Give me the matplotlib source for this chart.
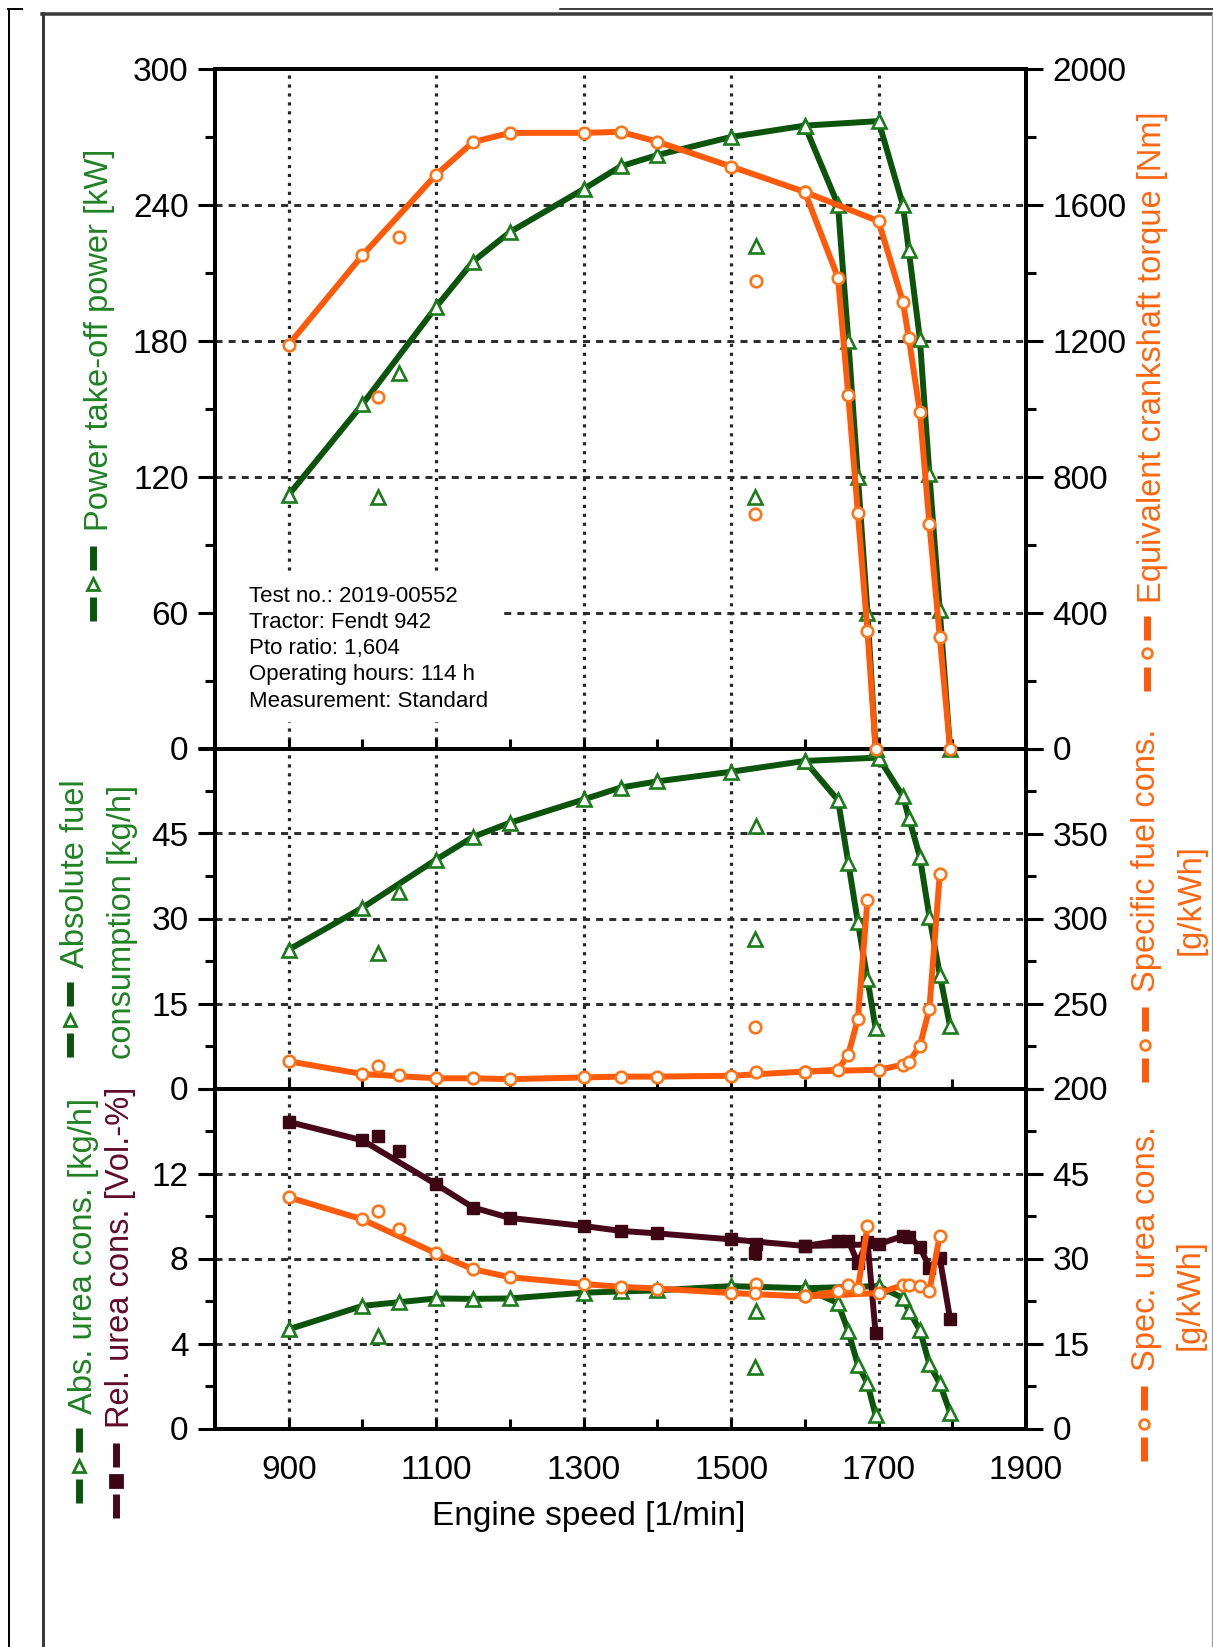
import matplotlib
matplotlib.use('Agg')
import matplotlib.pyplot as plt
from matplotlib.lines import Line2D
from matplotlib.patches import Rectangle
from matplotlib.ticker import MultipleLocator

plt.rcParams['font.family'] = ['Liberation Sans', 'DejaVu Sans']

# engine speed [1/min]
rpm_main = [900, 1000, 1100, 1150, 1200, 1300, 1350, 1400, 1500, 1600, 1700]
rpm_drop_a = [1645, 1659, 1672, 1685, 1696]        # run-out after 1600
rpm_drop_b = [1733, 1741, 1756, 1769, 1783, 1797]  # run-out after 1700
rpm_single = [1021, 1050, 1534, 1532]

# PTO power [kW]
power_main = [112, 152, 195, 215, 228, 247, 257, 262, 270, 275, 277]
power_drop_a = [240, 180, 120, 60, 0]
power_drop_b = [240, 220, 181, 121, 61, 0]
power_single = [111, 166, 222, 111]

# equivalent crankshaft torque [Nm]
torque_main = [1189, 1452, 1689, 1785, 1812, 1812, 1815, 1786, 1713, 1638, 1552]
torque_drop_a = [1386, 1039, 692, 345, 0]
torque_drop_b = [1315, 1209, 991, 661, 329, 0]
torque_single = [1035, 1506, 1377, 690]

# absolute fuel consumption [kg/h]
fuel_main = [24.5, 31.9, 40.4, 44.4, 46.9, 51.0, 53.1, 54.2, 55.9, 57.8, 58.4]
fuel_drop_a = [50.9, 39.8, 29.3, 19.3, 10.6]
fuel_drop_b = [51.6, 47.8, 40.9, 30.3, 20.1, 11.0]
fuel_single = [24.0, 34.7, 46.4, 26.3]

# specific fuel consumption [g/kWh]
sfc_main = [216, 208.5, 206, 206, 205.5, 206.5, 207, 207, 207.5, 210, 211]
sfc_drop_a = [211, 220, 241, 311]
sfc_drop_b = [214, 215.5, 225, 247, 326]
sfc_single = [213.5, 208, 209.5, 236]

# absolute urea consumption [kg/h]
urea_main = [4.67, 5.77, 6.12, 6.1, 6.12, 6.39, 6.45, 6.5, 6.7, 6.6, 6.7]
urea_drop_a = [5.9, 4.57, 2.99, 2.12, 0.62]
urea_drop_b = [6.14, 5.54, 4.64, 3.02, 2.12, 0.75]
urea_single = [4.35, 5.93, 5.51, 2.91]

# relative urea consumption [Vol.-%]
rel_main = [14.43, 13.56, 11.49, 10.4, 9.91, 9.53, 9.3, 9.18, 8.9, 8.59, 8.67]
rel_drop_a = [8.83, 8.83, 7.8, 8.8, 4.49]
rel_drop_b = [9.06, 9.03, 8.56, 7.56, 8.04, 5.16]
rel_single = [13.75, 13.07, 8.7, 8.27]

# specific urea consumption [g/kWh]
surea_main = [40.8, 36.9, 30.9, 28.1, 26.7, 25.5, 25.0, 24.7, 23.9, 23.3, 23.9]
surea_drop_a = [24.2, 25.3, 24.7, 35.7]
surea_drop_b = [25.3, 25.3, 25.1, 24.3, 34.0]
surea_single = [38.3, 35.2, 25.5, 23.9]

info_lines = ["Test no.: 2019-00552", "Tractor: Fendt 942", "Pto ratio: 1,604",
              "Operating hours: 114 h", "Measurement: Standard"]

x_ticks = [900, 1100, 1300, 1500, 1700, 1900]

GREEN_LINE = '#0c540c'
GREEN_MARK = '#1c7c1c'
GREEN_TEXT = '#1f8224'
ORANGE_LINE = '#ff5a0a'
ORANGE_MARK = '#ff7418'
ORANGE_TEXT = '#ff6610'
MAROON_LINE = '#48081c'
MAROON_MARK = '#3c0614'
MAROON_TEXT = '#620a2a'

W, H = 1213, 1647
fig = plt.figure(figsize=(W / 100, H / 100), dpi=100)


def box(top, bottom):
    return [215 / W, 1 - bottom / H, 811 / W, (bottom - top) / H]


def fx(x):
    return x / W


def fy(y):
    return 1 - y / H


green = dict(color=GREEN_LINE, lw=4.3, marker='^', ms=9.5, mfc='white',
             mec=GREEN_MARK, mew=1.9)
orange = dict(color=ORANGE_LINE, lw=4.3, marker='o', ms=8.3, mfc='white',
              mec=ORANGE_MARK, mew=1.9)
maroon = dict(color=MAROON_LINE, lw=4.3, marker='s', ms=9, mfc=MAROON_MARK,
              mec=MAROON_MARK, mew=1)


def plot_family(ax, main, drop_a, drop_b, single, style):
    # main curve with the run-out after the last point, second run-out from 1600
    ax.plot(rpm_main + rpm_drop_b[:len(drop_b)], main + drop_b,
            clip_on=False, zorder=3, **style)
    ax.plot([rpm_main[-2]] + rpm_drop_a[:len(drop_a)], [main[-2]] + drop_a,
            clip_on=False, zorder=3, **style)
    st = dict(style)
    st['ls'] = 'none'
    ax.plot(rpm_single, single, clip_on=False, zorder=3, **st)


def setup(ax, axr, lticks, llabels, lminor, rticks, rlabels, rminor, xlabels):
    ax.set_xlim(800, 1900)
    ax.set_ylim(lticks[0], lticks[-1])
    axr.set_ylim(rticks[0], rticks[-1])
    ax.set_xticks(x_ticks, labels=[str(v) for v in x_ticks] if xlabels else [])
    ax.xaxis.set_minor_locator(MultipleLocator(100))
    ax.set_yticks(lticks, labels=llabels)
    ax.yaxis.set_minor_locator(MultipleLocator(lminor))
    axr.set_yticks(rticks, labels=rlabels)
    axr.yaxis.set_minor_locator(MultipleLocator(rminor))
    ax.tick_params(axis='x', which='both', direction='in', length=7, width=2.2,
                   labelsize=24, pad=19, top=False)
    ax.tick_params(axis='y', which='major', direction='out', length=12,
                   width=2.2, labelsize=24, pad=7)
    ax.tick_params(axis='y', which='minor', direction='out', length=7, width=2.2)
    axr.tick_params(axis='y', which='major', direction='out', length=12,
                    width=2.2, labelsize=24, pad=7)
    axr.tick_params(axis='y', which='minor', direction='out', length=7, width=2.2)
    for a in (ax, axr):
        for sp in a.spines.values():
            sp.set_linewidth(2.8)
    ax.set_axisbelow(True)
    ax.xaxis.grid(True, which='major', color='#262626', lw=2.3,
                  ls=(0, (1, 1.8)))
    # inner horizontal gridlines only
    for v in lticks[1:-1]:
        ax.axhline(v, color='#2a2a2a', lw=2.1, ls=(0, (2.4, 2.1)), zorder=0.6)


# top panel: power and torque
ax_p = fig.add_axes(box(69, 748.5))
ax_t = ax_p.twinx()
setup(ax_p, ax_t, [0, 60, 120, 180, 240, 300],
      ['0', '60', '120', '180', '240', '300'], 30,
      [0, 400, 800, 1200, 1600, 2000],
      ['0', '400', '800', '1200', '1600', '2000'], 200, False)
plot_family(ax_p, power_main, power_drop_a, power_drop_b, power_single, green)
plot_family(ax_t, torque_main, torque_drop_a, torque_drop_b, torque_single, orange)

ax_p.add_patch(Rectangle((0, 0.039), 0.351, 0.218, transform=ax_p.transAxes,
                         facecolor='white', edgecolor='none', zorder=1))
for i, line in enumerate(info_lines):
    yc = 596 + i * 26.3
    ax_p.text(0.042, (748.5 - yc) / 679.5, line, transform=ax_p.transAxes,
              fontsize=16, va='center', ha='left', zorder=4)

# middle panel: fuel consumption
ax_f = fig.add_axes(box(748.5, 1088.5))
ax_s = ax_f.twinx()
setup(ax_f, ax_s, [0, 15, 30, 45, 60], ['0', '15', '30', '45', ''], 7.5,
      [200, 250, 300, 350, 400], ['200', '250', '300', '350', ''], 25, False)
plot_family(ax_f, fuel_main, fuel_drop_a, fuel_drop_b, fuel_single, green)
plot_family(ax_s, sfc_main, sfc_drop_a, sfc_drop_b, sfc_single, orange)

# bottom panel: urea consumption
ax_u = fig.add_axes(box(1088.5, 1428.5))
ax_us = ax_u.twinx()
setup(ax_u, ax_us, [0, 4, 8, 12, 16], ['0', '4', '8', '12', ''], 2,
      [0, 15, 30, 45, 60], ['0', '15', '30', '45', ''], 7.5, True)
plot_family(ax_u, urea_main, urea_drop_a, urea_drop_b, urea_single, green)
plot_family(ax_u, rel_main, rel_drop_a, rel_drop_b, rel_single, maroon)
plot_family(ax_us, surea_main, surea_drop_a, surea_drop_b, surea_single, orange)

# keep upper panels on top so boundary markers are not hidden
ax_p.set_zorder(3)
ax_t.set_zorder(4)
ax_f.set_zorder(1)
ax_s.set_zorder(2)


def glyph(x, y_top, color, marker, mfc, mec, ms):
    for a, b in ((y_top, y_top + 24), (y_top + 51, y_top + 75)):
        fig.add_artist(Line2D([fx(x), fx(x)], [fy(a), fy(b)], color=color,
                              lw=5, solid_capstyle='butt'))
    fig.add_artist(Line2D([fx(x)], [fy(y_top + 37.5)], ls='none', marker=marker,
                          ms=ms, mfc=mfc, mec=mec, mew=2))


def vlabel(x, y, text, color, va='bottom'):
    fig.text(fx(x), fy(y), text, rotation=90, ha='center', va=va,
             color=color, fontsize=23.5)


vlabel(100, 531, 'Power take-off power [kW]', GREEN_TEXT)
glyph(93, 546, GREEN_LINE, '^', 'white', GREEN_MARK, 8)
vlabel(1152, 603, 'Equivalent crankshaft torque [Nm]', ORANGE_TEXT)
glyph(1147, 616, ORANGE_LINE, 'o', 'white', ORANGE_MARK, 7)

vlabel(75, 968, 'Absolute fuel', GREEN_TEXT)
glyph(70, 982, GREEN_LINE, '^', 'white', GREEN_MARK, 8)
vlabel(123, 921.5, 'consumption [kg/h]', GREEN_TEXT, va='center')
vlabel(1147, 992, 'Specific fuel cons.', ORANGE_TEXT)
glyph(1145, 1007, ORANGE_LINE, 'o', 'white', ORANGE_MARK, 7)
vlabel(1191, 900, '[g/kWh]', ORANGE_TEXT, va='center')

vlabel(84, 1414, 'Abs. urea cons. [kg/h]', GREEN_TEXT)
glyph(79, 1428, GREEN_LINE, '^', 'white', GREEN_MARK, 8)
vlabel(121, 1428, 'Rel. urea cons. [Vol.-%]', MAROON_TEXT)
glyph(116, 1443, MAROON_LINE, 's', MAROON_MARK, MAROON_MARK, 8)
vlabel(1147, 1371, 'Spec. urea cons.', ORANGE_TEXT)
glyph(1144, 1386, ORANGE_LINE, 'o', 'white', ORANGE_MARK, 7)
vlabel(1190, 1295, '[g/kWh]', ORANGE_TEXT, va='center')

fig.text(fx(589), fy(1517), 'Engine speed [1/min]', ha='center', va='center',
         fontsize=24)

# page frame
frame = [([8.5, 8.5], [9, H], 'black', 2),
         ([8, 22], [9, 9], 'black', 2),
         ([560, W], [8.5, 8.5], 'black', 1.5),
         ([42.5, 42.5], [13, H], '#3a3a3a', 3),
         ([42, W], [13.5, 13.5], '#3a3a3a', 3.5),
         ([1211.5, 1211.5], [13, H], '#9a9a9a', 1.2)]
for xs, ys, c, lw in frame:
    fig.add_artist(Line2D([fx(v) for v in xs], [fy(v) for v in ys], color=c,
                          lw=lw * 0.72))

fig.savefig('out.png', dpi=100, facecolor='white')
